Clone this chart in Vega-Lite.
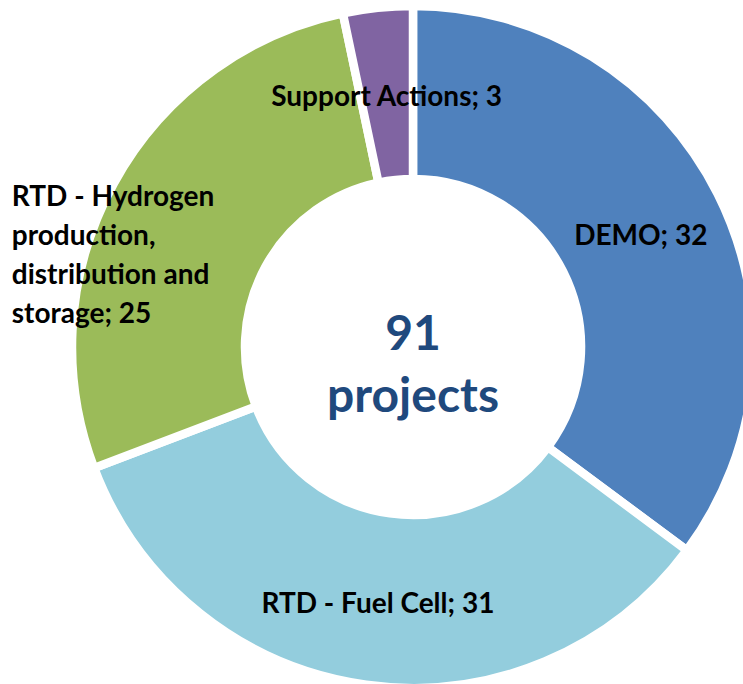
{
  "$schema": "https://vega.github.io/schema/vega-lite/v6.json",
  "autosize": "none",
  "padding": 0,
  "width": 826,
  "height": 694,
  "background": "white",
  "config": {"view": {"stroke": null}},
  "data": {
    "values": [
      {"k": 1, "cat": "DEMO", "value": 32, "label": "DEMO; 32"},
      {"k": 2, "cat": "RTD - Fuel Cell", "value": 31, "label": "RTD - Fuel Cell; 31"},
      {"k": 3, "cat": "RTD - Hydrogen production, distribution and storage", "value": 25, "label": "RTD - Hydrogen\nproduction,\ndistribution and\nstorage; 25"},
      {"k": 4, "cat": "Support Actions", "value": 3, "label": "Support Actions; 3"}
    ]
  },
  "encoding": {
    "theta": {"field": "value", "type": "quantitative", "stack": true},
    "order": {"field": "k", "type": "ordinal"}
  },
  "layer": [
    {
      "mark": {"type": "arc", "innerRadius": 168, "outerRadius": 341, "stroke": "white", "strokeWidth": 8.5},
      "encoding": {
        "color": {
          "field": "cat", "type": "nominal", "legend": null,
          "sort": ["DEMO", "RTD - Fuel Cell", "RTD - Hydrogen production, distribution and storage", "Support Actions"],
          "scale": {
            "domain": ["DEMO", "RTD - Fuel Cell", "RTD - Hydrogen production, distribution and storage", "Support Actions"],
            "range": ["#4F81BD", "#93CDDD", "#9BBB59", "#8064A2"]
          }
        }
      }
    },
    {
      "mark": {"type": "text", "font": "Lato", "fontWeight": "bold", "fontSize": 28, "color": "black", "align": "center", "baseline": "middle", "dy": 5},
      "encoding": {
        "radius": {"value": 255},
        "text": {"condition": {"test": "datum.k === 3", "value": ""}, "field": "label"}
      }
    },
    {
      "mark": {"type": "text", "font": "Lato", "fontWeight": "bold", "fontSize": 28, "color": "black", "align": "left", "baseline": "middle", "lineBreak": "\n", "lineHeight": 39, "thetaOffset": -0.1449},
      "encoding": {
        "radius": {"value": 428},
        "text": {"condition": {"test": "datum.k !== 3", "value": ""}, "field": "label"}
      }
    },
    {
      "data": {"values": [{"t": "91\nprojects"}]},
      "mark": {"type": "text", "font": "Lato", "fontWeight": "bold", "fontSize": 48, "color": "#1F497D", "align": "center", "baseline": "middle", "lineBreak": "\n", "lineHeight": 62, "dy": -11},
      "encoding": {
        "text": {"field": "t"},
        "theta": null,
        "order": null
      }
    }
  ]
}
